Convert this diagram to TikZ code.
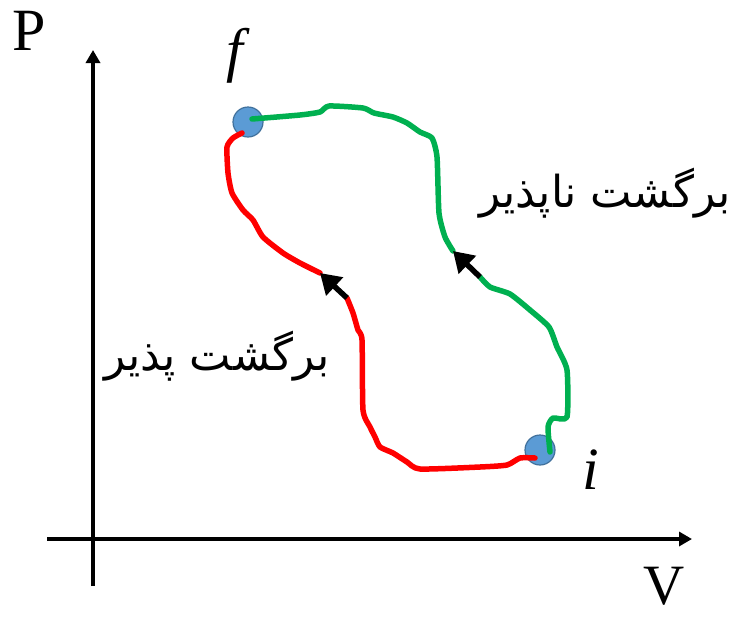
\documentclass[tikz,border=0pt]{standalone}
\usepackage{fontspec}
\setmainfont{Liberation Serif}
\newfontfamily\arabicfont[Script=Arabic]{DejaVu Sans}
\TeXXeTstate=1
\usetikzlibrary{arrows.meta}
\definecolor{ptfill}{HTML}{5B9BD5}
\definecolor{ptdraw}{HTML}{41719C}
\definecolor{revred}{HTML}{FF0000}
\definecolor{irrgreen}{HTML}{00B050}
\begin{document}
\begin{tikzpicture}[x=1pt,y=-1pt,
  axis/.style={line width=3.5pt,-{Triangle[length=13pt,width=14pt]}},
  statept/.style={circle,fill=ptfill,draw=ptdraw,line width=1.2pt,minimum size=30pt,inner sep=0pt},
  pathline/.style={line width=5.5pt,line join=round,line cap=round},
  dirarrow/.style={line width=5.5pt,-{Triangle[length=20pt,width=24pt]}},
  biglabel/.style={font=\fontsize{60}{66}\selectfont,anchor=base,inner sep=0pt},
  persian/.style={font=\arabicfont\fontsize{44}{52}\selectfont,inner sep=0pt}
]
\useasboundingbox (0,0) rectangle (736,619);
% axes
\coordinate (ybot) at (93,586);
\coordinate (ytop) at (93,50);
\coordinate (xleft) at (47,539);
\coordinate (xright) at (692,539);
\draw[axis] (ybot) -- (ytop);
\draw[axis] (xleft) -- (xright);
\node[biglabel] (P) at (29,50) {P};
\node[biglabel,font=\fontsize{57}{63}\selectfont] (V) at (664,604) {V};
% state points
\node[statept] (f) at (248,122) {};
\node[statept] (i) at (540,450) {};
\node[biglabel] (flab) at (238,70) {\textit{f}};
\node[biglabel] (ilab) at (591,489) {\textit{i}};
% irreversible (green) path
\coordinate (g0) at (252,119);
\coordinate (ga) at (480,277);
\coordinate (gb) at (453,251);
\coordinate (g1) at (550,452);
\draw[pathline,irrgreen] plot[smooth,tension=0.35] coordinates {(g0) (300,115) (320,112) (329,106) (363,108) (374,113) (393,117) (407,123) (420,132) (432,138) (437,157) (439,213) (445,237) (453,251)};
\draw[pathline,irrgreen] plot[smooth,tension=0.35] coordinates {(ga) (490,287) (510,294) (530,310) (549,327) (557,347) (567,370) (567,417) (553,418) (548,427) (g1)};
\draw[dirarrow] (ga) -- (gb);
% reversible (red) path
\coordinate (r0) at (535,458);
\coordinate (ra) at (347,298);
\coordinate (rb) at (320,273);
\coordinate (r1) at (242,133);
\draw[pathline,revred] plot[smooth,tension=0.35] coordinates {(r0) (520,458) (507,465) (480,467) (420,469) (407,462) (393,453) (380,447) (375,437) (370,427) (363,410) (362,340) (358,330) (353,313) (ra)};
\draw[pathline,revred] plot[smooth,tension=0.35] coordinates {(rb) (300,263) (283,253) (263,237) (253,220) (243,210) (232,193) (228,173) (227,147) (233,138) (r1)};
\draw[dirarrow] (ra) -- (rb);
% labels
\node[persian] (rev) at (217,356) {\beginR برگشت پذیر\endR};
\node[persian] (irr) at (605,193) {\beginR برگشت ناپذیر\endR};
\end{tikzpicture}
\end{document}
